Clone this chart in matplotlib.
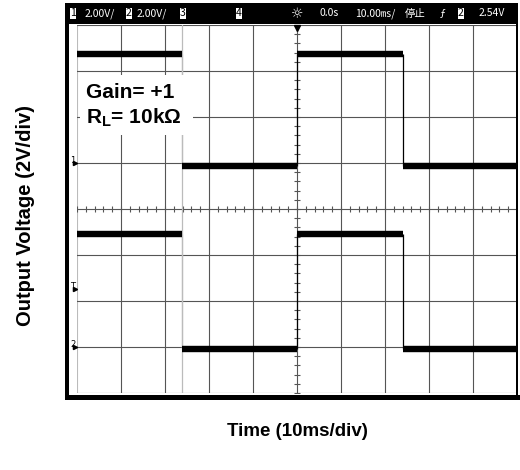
## Scope capture: unity gain buffer driving a 10k load, two channels, 10 ms/div

import numpy as np
import matplotlib.pyplot as plt
from matplotlib.patches import Rectangle

plt.rcParams['mathtext.fontset'] = 'custom'
plt.rcParams['mathtext.bf'] = 'Liberation Sans:bold'
plt.rcParams['mathtext.rm'] = 'Liberation Sans'


## Waveform values

t_edges = [0, 23.9, 50, 74.1, 100]          # ms, segment boundaries
ch1_levels = [4.75, -0.13, 4.75, -0.13]     # V
ch2_levels = [4.9, -0.09, 4.9, -0.09]       # V
ch1_ground = 5      # div from bottom
ch2_ground = 1
trig_level = 2.54   # V on ch2
volts_per_div = 2.0
ms_per_div = 10.0

header_items = [
    (70, '1', True), (85, '2.00V/', False), (126, '2', True), (137, '2.00V/', False),
    (180, '3', True), (236, '4', True), (320, '0.0s', False), (355, '10.00㎳/', False),
    (405, '停止', False), (440, 'ƒ', False), (458, '2', True), (479, '2.54V', False),
]


## Figure in pixel terms

W, H = 520, 470
def fx(x):
    return x / W
def fy(y):
    return 1 - y / H

fig = plt.figure(figsize=(W / 100, H / 100), dpi=100)
ax = fig.add_axes([fx(77), fy(393), 440 / W, 368 / H])
ax.set_xlim(0, 10 * ms_per_div)
ax.set_ylim(0, 8)
ax.axis('off')

grid_col = '#555555'
for i in range(11):
    ax.axvline(i * ms_per_div, color='#bbbbbb' if i == 0 else grid_col, lw=0.8, zorder=1)
for j in range(9):
    ax.axhline(j, color=grid_col, lw=0.8, zorder=1)

# minor ticks on the centre lines
xt = np.arange(0, 100.01, ms_per_div / 5)
ax.plot(xt, np.full(len(xt), 4.0), ls='none', marker='|', ms=4, mew=0.8, color=grid_col, zorder=1)
yt = np.arange(0, 8.01, 0.2)
ax.plot(np.full(len(yt), 50.0), yt, ls='none', marker='_', ms=4, mew=0.8, color=grid_col, zorder=1)


## Traces

for ground, levels in [(ch1_ground, ch1_levels), (ch2_ground, ch2_levels)]:
    ys = [ground + v / volts_per_div for v in levels]
    for i in range(len(levels)):
        ax.hlines(ys[i], t_edges[i], t_edges[i + 1], color='black', lw=4.6, zorder=3)
    for i in range(1, len(levels)):
        col = '#bbbbbb' if i == 1 else 'black'
        ax.vlines(t_edges[i], min(ys[i - 1], ys[i]), max(ys[i - 1], ys[i]), color=col, lw=0.9, zorder=2)
ax.axvline(t_edges[1], color='#bbbbbb', lw=0.9, zorder=1)

# ground and trigger markers on the left edge
for lab, yv in [('1', ch1_ground), ('2', ch2_ground), ('T', ch2_ground + trig_level / volts_per_div)]:
    ax.text(-1.6, yv + 0.05, lab, fontsize=6, ha='left', va='center', clip_on=False,
            family='DejaVu Sans')
    ax.plot([-0.4], [yv], marker='>', ms=3, color='black', clip_on=False)
# trigger position marker under the header
ax.plot([50], [8 - 3 / 46], marker='v', ms=4, color='black', clip_on=False, zorder=5)


## Screen frame

frame = [
    (65, 3, 518, 24),    # header bar
    (65, 3, 69, 400),    # left edge
    (65, 395, 520, 400), # bottom edge
    (516, 3, 518, 400),  # right edge
]
for x0, y0, x1, y1 in frame:
    fig.add_artist(Rectangle((fx(x0), fy(y1)), (x1 - x0) / W, (y1 - y0) / H,
                             transform=fig.transFigure, color='black', lw=0))

hdr_font = ['Liberation Sans Narrow', 'DejaVu Sans Condensed', 'Noto Sans CJK JP', 'DejaVu Sans']
for x, s, boxed in header_items:
    if boxed:
        fig.text(fx(x), fy(13.5), s, color='black', fontsize=7.5, ha='left', va='center',
                 family=hdr_font, bbox=dict(facecolor='white', edgecolor='none', pad=0.3))
    else:
        fig.text(fx(x), fy(13.5), s, color='white', fontsize=7.5, ha='left', va='center', family=hdr_font)
fig.text(fx(297), fy(13.5), '☼', color='white', fontsize=10, ha='center', va='center', family='DejaVu Sans')


## Annotation box

fig.add_artist(Rectangle((fx(80), fy(135)), 113 / W, 60 / H, transform=fig.transFigure,
                         color='white', lw=0))
fig.text(fx(86), fy(93), 'Gain= +1', fontsize=15, fontweight='bold', family='Liberation Sans',
         ha='left', va='center')
fig.text(fx(86), fy(118), r'R$_{\mathbf{L}}$= 10kΩ', fontsize=15, fontweight='bold',
         family='Liberation Sans', ha='left', va='center')


## Axis captions

fig.text(fx(26), fy(215), 'Output Voltage (2V/div)', rotation=90, fontsize=14.5, fontweight='bold',
         family='Liberation Sans', ha='center', va='center')
fig.text(fx(297), fy(432), 'Time (10ms/div)', fontsize=13.5, fontweight='bold',
         family='Liberation Sans', ha='center', va='center')

fig.savefig('out.png', dpi=100, facecolor='white')
